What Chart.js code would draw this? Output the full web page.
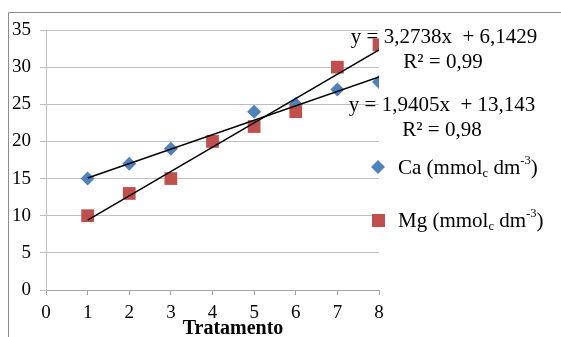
<!DOCTYPE html>
<html>
<head>
<meta charset="utf-8">
<script src="https://cdn.jsdelivr.net/npm/chart.js@4"></script>
<style>
  html, body { margin: 0; padding: 0; background: #fff; }
  #wrap { width: 561px; height: 337px; }
</style>
</head>
<body>
<div id="wrap"><canvas id="chart" width="561" height="337"></canvas></div>
<script>
// values
const treatments = [1, 2, 3, 4, 5, 6, 7, 8];
const caValues = [15, 17, 19, 20, 24, 25, 27, 28];
const mgValues = [10, 13, 15, 20, 22, 24, 30, 33];

// trendline coefficients as printed on the chart
const caSlope = 1.9405, caIntercept = 13.143;
const mgSlope = 3.2738, mgIntercept = 6.1429;

const xTicks = [0, 1, 2, 3, 4, 5, 6, 7, 8];
const yTicks = [0, 5, 10, 15, 20, 25, 30, 35];

const CA_COLOR = "#4F81BD";
const MG_COLOR = "#C0504D";
const FONT = "'Liberation Serif', 'Times New Roman', serif";

function points(xs, ys) {
  return xs.map((x, i) => ({ x: x, y: ys[i] }));
}

function trend(slope, intercept) {
  const x0 = treatments[0];
  const x1 = treatments[treatments.length - 1];
  return [{ x: x0, y: slope * x0 + intercept }, { x: x1, y: slope * x1 + intercept }];
}

// draws text pieces with sub / superscripts
function drawRich(ctx, parts, x, y, size) {
  let cx = x;
  parts.forEach((p) => {
    let s = size, dy = 0;
    if (p.sub) { s = size * 0.6; dy = size * 0.25; }
    if (p.sup) { s = size * 0.6; dy = -size * 0.33; }
    ctx.font = s + "px " + FONT;
    ctx.fillText(p.t, cx, y + dy);
    cx += ctx.measureText(p.t).width;
  });
}

const extras = {
  id: "extras",
  beforeDraw(chart) {
    const ctx = chart.ctx;
    ctx.save();
    ctx.strokeStyle = "#8c8c8c";
    ctx.lineWidth = 1;
    ctx.beginPath();
    ctx.moveTo(8.5, 337);
    ctx.lineTo(8.5, 12.5);
    ctx.lineTo(561, 12.5);
    ctx.stroke();
    ctx.restore();
  },
  afterDraw(chart) {
    const ctx = chart.ctx;
    ctx.save();
    ctx.fillStyle = "#000";
    ctx.textBaseline = "middle";
    ctx.textAlign = "center";
    ctx.font = "21px " + FONT;
    ctx.fillText("y = 3,2738x  + 6,1429", 444, 37);
    ctx.fillText("R² = 0,99", 443, 62);
    ctx.fillText("y = 1,9405x  + 13,143", 442, 105);
    ctx.fillText("R² = 0,98", 442, 130);

    ctx.font = "bold 20px " + FONT;
    ctx.fillText("Tratamento", 233, 329);

    // legend
    ctx.textAlign = "left";
    ctx.fillStyle = CA_COLOR;
    ctx.beginPath();
    ctx.moveTo(378, 160);
    ctx.lineTo(385, 167);
    ctx.lineTo(378, 174);
    ctx.lineTo(371, 167);
    ctx.closePath();
    ctx.fill();
    ctx.fillStyle = MG_COLOR;
    ctx.fillRect(372, 214, 13, 13);

    ctx.fillStyle = "#000";
    drawRich(ctx, [{ t: "Ca (mmol" }, { t: "c", sub: true }, { t: " dm" }, { t: "-3", sup: true }, { t: ")" }], 398, 168, 21);
    drawRich(ctx, [{ t: "Mg (mmol" }, { t: "c", sub: true }, { t: " dm" }, { t: "-3", sup: true }, { t: ")" }], 398, 221, 21);
    ctx.restore();
  },
};

new Chart(document.getElementById("chart"), {
  type: "scatter",
  data: {
    datasets: [
      {
        type: "line",
        label: "Linear Ca",
        data: trend(caSlope, caIntercept),
        borderColor: "#000",
        borderWidth: 1.5,
        pointRadius: 0,
        fill: false,
      },
      {
        type: "line",
        label: "Linear Mg",
        data: trend(mgSlope, mgIntercept),
        borderColor: "#000",
        borderWidth: 1.5,
        pointRadius: 0,
        fill: false,
      },
      {
        label: "Mg",
        data: points(treatments, mgValues),
        pointStyle: "rect",
        pointRadius: 9,
        backgroundColor: MG_COLOR,
        borderWidth: 0,
      },
      {
        label: "Ca",
        data: points(treatments, caValues),
        pointStyle: "rectRot",
        pointRadius: 7,
        backgroundColor: CA_COLOR,
        borderWidth: 0,
      },
    ],
  },
  options: {
    responsive: false,
    animation: false,
    layout: { padding: { top: 30, right: 182, left: 0, bottom: 0 } },
    plugins: {
      legend: { display: false },
      tooltip: { enabled: false },
    },
    scales: {
      x: {
        type: "linear",
        min: 0,
        max: 8,
        afterFit: (scale) => { scale.height = 47; },
        afterBuildTicks: (scale) => { scale.ticks = xTicks.map((v) => ({ value: v })); },
        ticks: {
          color: "#000",
          padding: 7,
          font: { family: FONT, size: 19 },
        },
        grid: {
          drawOnChartArea: false,
          drawTicks: true,
          tickLength: 5,
          color: "#a6a6a6",
        },
        border: { color: "#a6a6a6" },
      },
      y: {
        min: 0,
        max: 35,
        afterFit: (scale) => { scale.width = 46; },
        afterBuildTicks: (scale) => { scale.ticks = yTicks.map((v) => ({ value: v })); },
        ticks: {
          color: "#000",
          padding: 9,
          font: { family: FONT, size: 19 },
        },
        grid: {
          color: "#bfbfbf",
          tickLength: 6,
        },
        border: { color: "#bfbfbf" },
      },
    },
  },
  plugins: [extras],
});
</script>
</body>
</html>
